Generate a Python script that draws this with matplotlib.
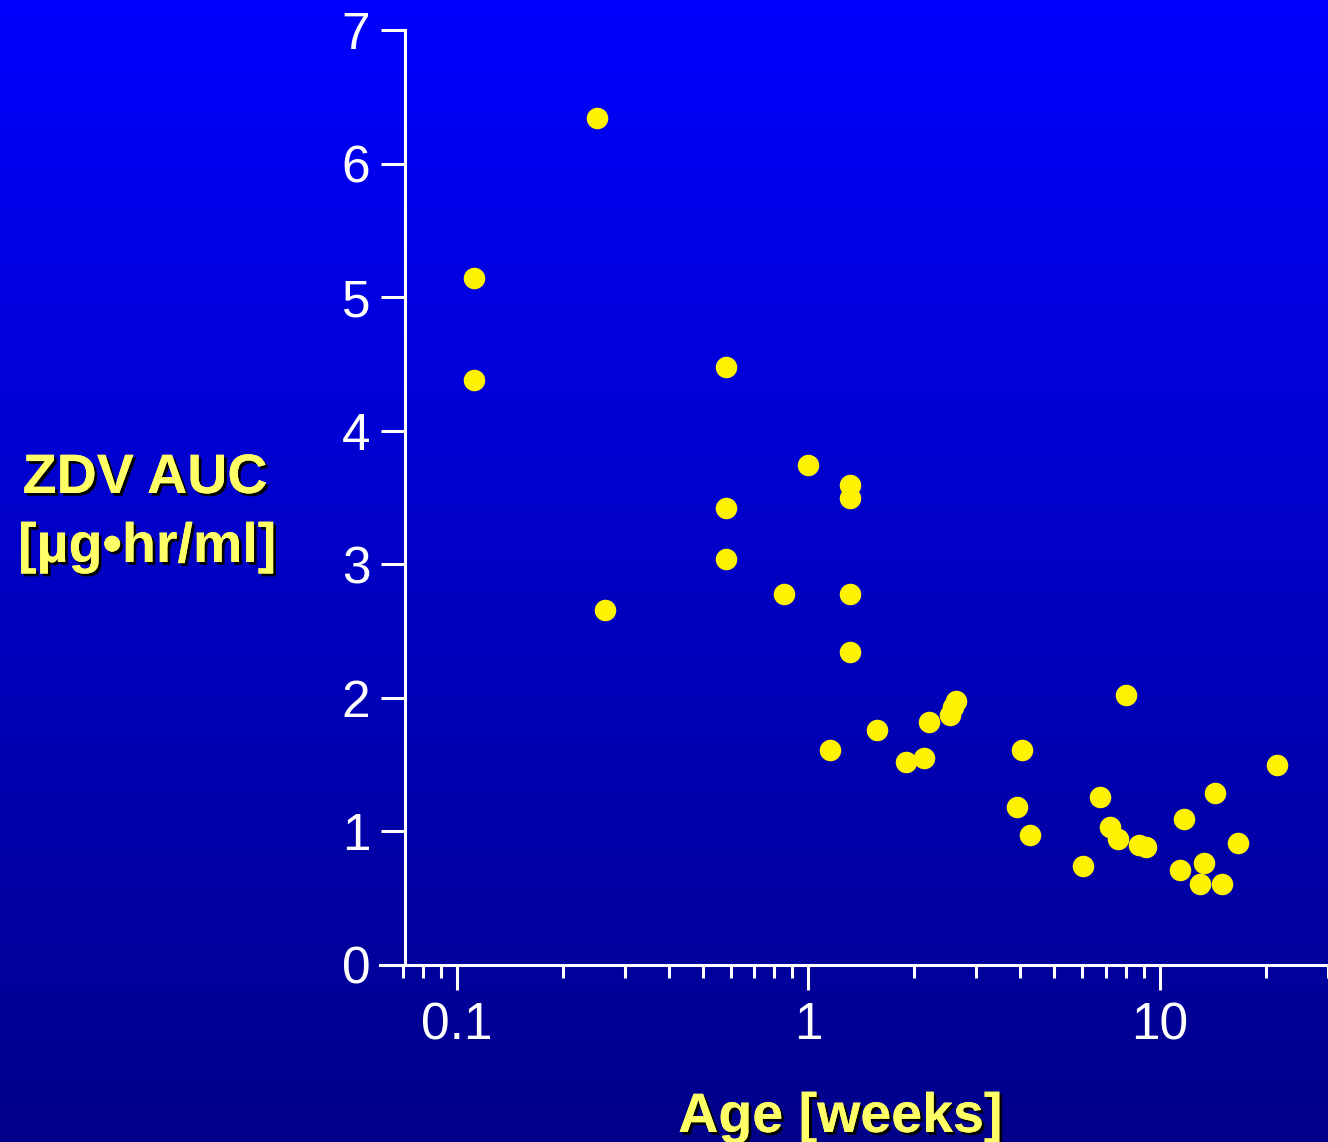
import numpy as np
import matplotlib
matplotlib.use("Agg")
import matplotlib.pyplot as plt
import matplotlib.patheffects as pe
from matplotlib.ticker import LogLocator, NullFormatter

plt.rcParams['font.family'] = ['Liberation Sans', 'DejaVu Sans']

# Age [weeks] vs ZDV AUC
age = [0.112, 0.112, 0.25, 0.264, 0.582, 0.582, 0.582, 0.852, 1.0, 1.155,
       1.316, 1.316, 1.316, 1.316, 1.571, 1.888, 2.138, 2.195, 2.53, 2.58,
       2.62, 3.93, 4.04, 4.26, 6.02, 6.73, 7.23, 7.62, 8.03, 8.69,
       9.15, 11.42, 11.72, 13.0, 13.35, 14.33, 15.0, 16.7, 21.5]
auc = [5.14, 4.38, 6.34, 2.66, 4.48, 3.42, 3.04, 2.78, 3.74, 1.61,
       3.59, 3.50, 2.78, 2.34, 1.76, 1.52, 1.55, 1.82, 1.87, 1.93,
       1.98, 1.18, 1.61, 0.97, 0.74, 1.26, 1.03, 0.94, 2.02, 0.90,
       0.88, 0.71, 1.09, 0.61, 0.76, 1.29, 0.61, 0.91, 1.50]

y_ticks = [0, 1, 2, 3, 4, 5, 6, 7]
x_ticks = [0.1, 1, 10]
x_ticklabels = ['0.1', '1', '10']

W, H = 1328, 1142
fig = plt.figure(figsize=(W / 100, H / 100), dpi=100)

# blue gradient background
bg = fig.add_axes([0, 0, 1, 1], zorder=-10)
grad = np.linspace(0, 1, 256)
colors = np.zeros((256, 1, 3))
colors[:, 0, 2] = (255 - grad * 117) / 255
bg.imshow(colors, aspect='auto', extent=[0, 1, 0, 1])
bg.axis('off')

left = 380 / W
bottom = (H - 965) / H
top = (H - 30) / H
ax = fig.add_axes([left, bottom, 1 - left, top - bottom])
ax.patch.set_alpha(0)

ax.set_xscale('log')
ax.plot(age, auc, 'o', color='#fff200', markersize=15.5, markeredgewidth=0, clip_on=False)

ax.set_xlim(10 ** -1.2191, 10 ** 1.478)
ax.set_ylim(0, 7)

for s in ['top', 'right']:
    ax.spines[s].set_visible(False)
ax.spines['left'].set_position(('data', 0.0711))
for s in ['left', 'bottom']:
    ax.spines[s].set_color('white')
    ax.spines[s].set_linewidth(2.2)

ax.set_yticks(y_ticks)
ax.set_xticks(x_ticks)
ax.set_xticklabels(x_ticklabels)
ax.xaxis.set_minor_locator(LogLocator(base=10, subs=np.arange(2, 10), numticks=20))
ax.xaxis.set_minor_formatter(NullFormatter())

ax.tick_params(axis='y', direction='out', length=17, width=2.2, color='white',
               labelcolor='white', labelsize=37, pad=8)
ax.tick_params(axis='x', which='major', direction='out', length=18, width=2.2,
               color='white', labelcolor='white', labelsize=37, pad=8)
ax.tick_params(axis='x', which='minor', direction='out', length=9, width=2.2, color='white')

shadow = [pe.withSimplePatchShadow(offset=(2, -2), shadow_rgbFace='black', alpha=1.0),
          pe.Normal()]
label_kw = dict(color='#ffff66', fontsize=40, fontweight='bold', ha='center',
                va='baseline', path_effects=shadow)
fig.text(145 / W, 1 - 493 / H, 'ZDV AUC', **label_kw)
fig.text(147 / W, 1 - 562 / H, '[µg•hr/ml]', **label_kw)
fig.text(840 / W, 1 - 1132 / H, 'Age [weeks]', **label_kw)

fig.savefig('out.png', dpi=100)
